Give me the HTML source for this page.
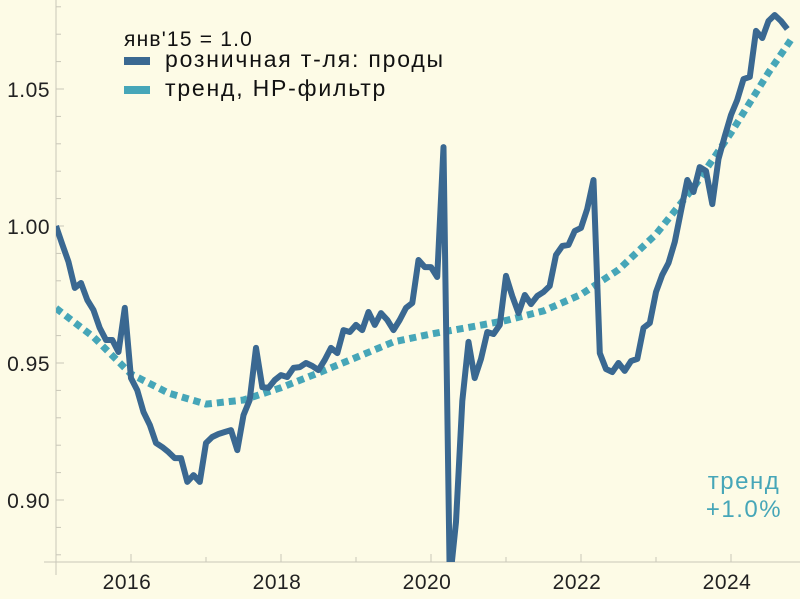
<!DOCTYPE html>
<html><head><meta charset="utf-8"><style>
html,body{margin:0;padding:0;background:#fdfbe6;}
svg{display:block;font-family:"Liberation Sans","DejaVu Sans",sans-serif;}
</style></head><body>
<svg id="chart" width="800" height="599" viewBox="0 0 800 599">
<rect width="800" height="599" fill="#fdfbe6"/>
<defs><clipPath id="plotclip"><rect x="56" y="0" width="744" height="562"/></clipPath></defs>
<g id="axes"></g>
<g id="series" clip-path="url(#plotclip)"></g>
<g>
<text x="124" y="46" font-size="21" fill="#111" letter-spacing="1.2">янв'15 = 1.0</text>
<rect x="124" y="57" width="26" height="8" fill="#3a6891"/>
<text x="165" y="67" font-size="23" fill="#111" letter-spacing="1.8">розничная т-ля: проды</text>
<rect x="124" y="86" width="26" height="8" fill="#46a6b8"/>
<text x="165" y="96" font-size="23" fill="#111" letter-spacing="1.8">тренд, HP-фильтр</text>
</g>
<text x="744" y="489" font-size="24" fill="#46a6b8" text-anchor="middle" letter-spacing="1.5">тренд</text>
<text x="744" y="517" font-size="24" fill="#46a6b8" text-anchor="middle" letter-spacing="1.5">+1.0%</text>
</svg>
<script>
const retailValues=[1.000,0.9934,0.9869,0.9774,0.9792,0.9730,0.9693,0.9628,0.9584,0.9584,0.9540,0.9701,0.9445,0.9401,0.9321,0.9274,0.9208,0.9193,0.9175,0.9153,0.9153,0.9066,0.9091,0.9066,0.9208,0.9230,0.9241,0.9248,0.9255,0.9182,0.9310,
0.9365,0.9555,0.9412,0.9409,0.9438,0.9456,0.9449,0.9482,0.9485,0.9500,0.9489,0.9474,0.9511,0.9555,0.9536,0.9620,0.9613,0.9639,0.9620,0.9686,0.9639,0.9682,0.9657,0.9620,0.9657,0.9701,0.9719,0.9876,0.9850,0.9850,0.9814,1.0288,0.8700,
0.8920,0.9361,0.9577,0.9445,0.9515,0.9613,0.9606,0.9639,0.9818,0.9745,0.9682,0.9748,0.9715,0.9745,0.9759,0.9781,0.9894,0.9927,0.9931,0.9982,0.9993,1.0062,1.0168,
0.9536,0.9478,0.9467,0.9500,0.9471,0.9507,0.9515,0.9628,0.9646,0.9759,0.9821,0.9865,0.9942,1.0055,1.0168,1.0124,1.0215,1.0201,1.0080,1.0245,1.0328,1.0405,1.0460,1.0536,1.0544,1.0712,1.0686,1.0748,1.0770,1.0748,1.0719];
const trendYears=[2015.0,2015.5,2016.0,2016.5,2017.0,2017.5,2018.0,2018.5,2019.0,2019.5,2020.0,2020.5,2021.0,2021.5,2022.0,2022.5,2023.0,2023.5,2024.0,2024.5,2024.8];
const trendValues=[0.970,0.9595,0.946,0.939,0.935,0.9365,0.941,0.9464,0.952,0.9577,0.9606,0.963,0.9655,0.969,0.975,0.984,0.997,1.014,1.034,1.056,1.068];
const yTicks=[0.90,0.95,1.00,1.05];
const yTickLabels=["0.90","0.95","1.00","1.05"];
const xTicks=[2016,2018,2020,2022,2024];
const xTickLabels=["2016","2018","2020","2022","2024"];
const startYear=2015.0;

const NS="http://www.w3.org/2000/svg";
const X=t=>56+(t-2015)*75;
const Y=v=>226-(v-1)*2740;
function mk(tag,attrs,parent){const e=document.createElementNS(NS,tag);for(const k in attrs)e.setAttribute(k,attrs[k]);parent.appendChild(e);return e;}
const axes=document.getElementById('axes'),series=document.getElementById('series');
const grey="#c9c7b8";
let l=mk('line',{x1:56,y1:0,x2:56,y2:575,stroke:grey,'stroke-width':1},axes);


l=mk('line',{x1:44,y1:562,x2:800,y2:562,stroke:grey,'stroke-width':1},axes);


for(let v=0.88;v<=1.08;v+=0.01){const vv=Math.round(v*100)/100;const major=yTicks.some(t=>Math.abs(t-vv)<1e-6);
 const t=mk('line',{x1:56,y1:Y(vv),x2:major?64:61,y2:Y(vv),stroke:grey,'stroke-width':1},axes);
 
 }
yTicks.forEach((v,i)=>{const t=mk('text',{x:50,y:Y(v)+8,'font-size':21,fill:'#222','text-anchor':'end','letter-spacing':0.5},axes);t.textContent=yTickLabels[i];
 
 });
for(let yr=2015;yr<=2025;yr++){const major=xTicks.includes(yr);
 const t=mk('line',{x1:X(yr),y1:562,x2:X(yr),y2:major?554:557,stroke:grey,'stroke-width':1},axes);
 
 }
xTicks.forEach((yr,i)=>{const t=mk('text',{x:X(yr)-4,y:589,'font-size':21,fill:'#222','text-anchor':'middle','letter-spacing':0.5},axes);t.textContent=xTickLabels[i];
 
 });
let d='';trendYears.forEach((t,i)=>{d+=(i?'L':'M')+X(t).toFixed(1)+' '+Y(trendValues[i]).toFixed(1);});
const tp=mk('path',{d:d,fill:'none',stroke:'#46a6b8','stroke-width':7,'stroke-dasharray':'7 5'},series);


d='';retailValues.forEach((v,i)=>{d+=(i?'L':'M')+X(startYear+i/12).toFixed(1)+' '+Y(v).toFixed(1);});
const rp=mk('path',{d:d,fill:'none',stroke:'#3a6891','stroke-width':6,'stroke-linejoin':'round'},series);


</script>
</body></html>
